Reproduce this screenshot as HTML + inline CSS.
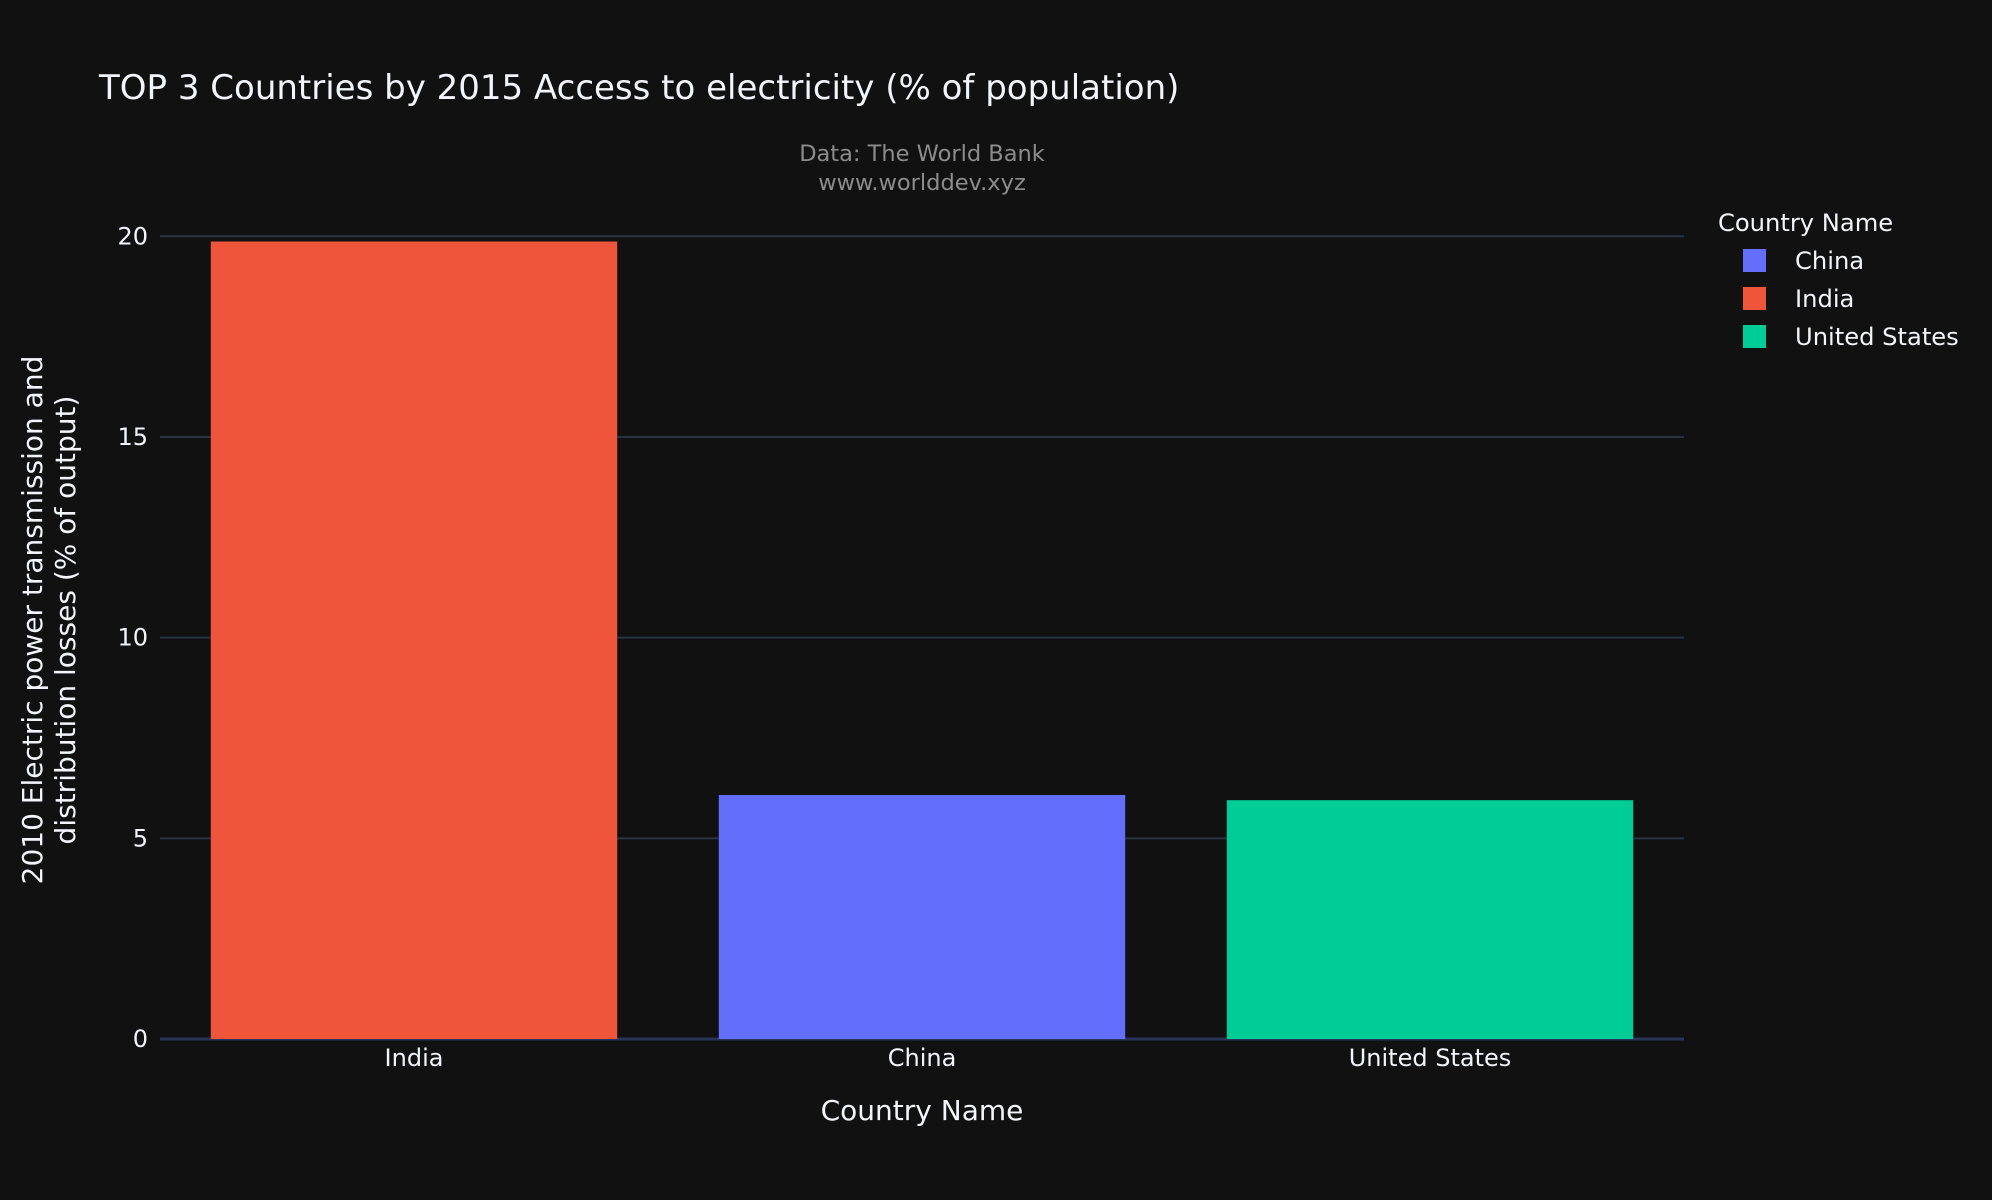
<!DOCTYPE html>
<html><head><meta charset="utf-8"><style>
body{margin:0;background:#111111;}
svg{display:block;font-family:"DejaVu Sans","Liberation Sans",sans-serif;}
</style></head><body>
<svg id="chart" width="1992" height="1200" viewBox="0 0 1992 1200">
<rect width="1992" height="1200" fill="#111111"/>
<text x="99" y="99" font-size="34" fill="#f2f5fa">TOP 3 Countries by 2015 Access to electricity (% of population)</text>
<text x="922" y="161" font-size="22.5" fill="#8c8c8c" text-anchor="middle">Data: The World Bank</text>
<text x="922" y="190" font-size="22.5" fill="#8c8c8c" text-anchor="middle">www.worlddev.xyz</text>
<g id="grid"></g>
<g id="bars"></g>
<g id="xticks"></g>
<text x="922" y="1120" font-size="28" fill="#f2f5fa" text-anchor="middle">Country Name</text>
<text transform="translate(42,620) rotate(-90)" font-size="28" fill="#f2f5fa" text-anchor="middle"><tspan x="0" y="0">2010 Electric power transmission and</tspan><tspan x="0" dy="33">distribution losses (% of output)</tspan></text>
<g>
<text x="1718" y="231" font-size="24.2" fill="#f2f5fa">Country Name</text>
<g><rect x="1743" y="249" width="23" height="23" fill="#636efa"/><text x="1795" y="269" font-size="24.2" fill="#f2f5fa">China</text></g>
<g><rect x="1743" y="287" width="23" height="23" fill="#ef553b"/><text x="1795" y="307" font-size="24.2" fill="#f2f5fa">India</text></g>
<g><rect x="1743" y="325" width="23" height="23" fill="#00cc96"/><text x="1795" y="345" font-size="24.2" fill="#f2f5fa">United States</text></g>
</g>
</svg>
<script>
const categories = ["India", "China", "United States"];
const values = [19.87, 6.08, 5.95];
const colors = ["#ef553b", "#636efa", "#00cc96"];
const yTicks = [0, 5, 10, 15, 20];
const NS = "http://www.w3.org/2000/svg";
const x0 = 160, x1 = 1684, yTop = 236.3, yBot = 1039, yMax = 20;
const band = (x1 - x0) / categories.length;
function yScale(v){ return yBot - (v / yMax) * (yBot - yTop); }
function xCenter(i){ return x0 + band * (i + 0.5); }
function mk(tag, attrs, parent){ const e = document.createElementNS(NS, tag); for (const k in attrs) e.setAttribute(k, attrs[k]); parent.appendChild(e); return e; }
const grid = document.getElementById("grid");
yTicks.forEach(t => {
  const y = yScale(t);
  const l = mk("line", {x1: x0, x2: x1, y1: y, y2: y, stroke: t === 0 ? "#2a3459" : "#283442", "stroke-width": t === 0 ? 3 : 2}, grid);
  
  
  const tx = mk("text", {x: x0 - 12, y: y + 8, "font-size": 24, fill: "#f2f5fa", "text-anchor": "end"}, grid);
  tx.textContent = t;
  
  
});
const bars = document.getElementById("bars");
categories.forEach((c, i) => {
  const w = band * 0.8;
  const y = yScale(values[i]);
  const r = mk("rect", {x: xCenter(i) - w / 2, y: y, width: w, height: yBot - y, fill: colors[i]}, bars);
  
  
  const tx = mk("text", {x: xCenter(i), y: 1066, "font-size": 24, fill: "#f2f5fa", "text-anchor": "middle"}, document.getElementById("xticks"));
  tx.textContent = c;
  
  
});
</script>
</body></html>
